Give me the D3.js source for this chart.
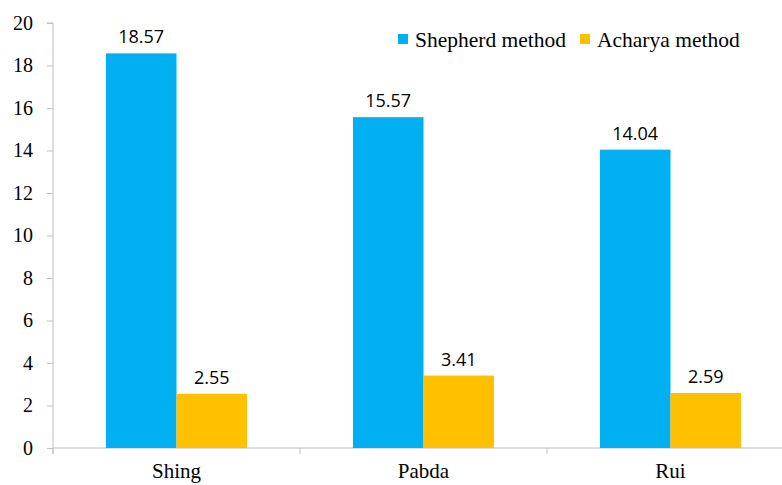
<!DOCTYPE html>
<html>
<head>
<meta charset="utf-8">
<script src="https://cdn.jsdelivr.net/npm/d3@7"></script>
<style>
  html, body { margin: 0; padding: 0; background: #fff; }
  svg { display: block; }
</style>
</head>
<body>
<svg id="chart" width="782" height="485"></svg>
<script>
// Fish species and the two estimates per species
const categories = ["Shing", "Pabda", "Rui"];
const seriesNames = ["Shepherd method", "Acharya method"];
const shepherdValues = [18.57, 15.57, 14.04];
const acharyaValues = [2.55, 3.41, 2.59];
const yTicks = [0, 2, 4, 6, 8, 10, 12, 14, 16, 18, 20];
const colors = ["#00B0F0", "#FFC000"];

const serifFont = '"Liberation Serif", "Times New Roman", serif';
const sansFont = '"Open Sans", "Liberation Sans", sans-serif';

const svg = d3.select("#chart");
const plotLeft = 53, plotRight = 794, plotTop = 23, plotBottom = 448;

const x = d3.scaleBand().domain(categories).range([plotLeft, plotRight]).paddingInner(0).paddingOuter(0);
const inner = d3.scaleBand().domain(seriesNames).range([0, x.bandwidth()]).paddingOuter(0.75).paddingInner(0);
const y = d3.scaleLinear().domain([0, 20]).range([plotBottom, plotTop]);

const rows = categories.map((c, i) => ({
  cat: c,
  vals: [
    { name: seriesNames[0], v: shepherdValues[i], color: colors[0] },
    { name: seriesNames[1], v: acharyaValues[i], color: colors[1] }
  ]
}));

const axisColor = "#BFBFBF";

// y axis
const yAxis = svg.append("g").attr("transform", `translate(${plotLeft},0)`)
  .call(d3.axisLeft(y).tickValues(yTicks).tickSize(6).tickPadding(14).tickFormat(d3.format("d")));
yAxis.select(".domain").attr("stroke", axisColor).attr("d", `M-6,${plotTop}H0V${plotBottom + 6}`);
yAxis.selectAll(".tick line").attr("stroke", axisColor);
yAxis.selectAll(".tick text")
  .attr("fill", "#000").style("font-family", serifFont).style("font-size", "20px");

// x axis with tick marks on category boundaries
const xg = svg.append("g").attr("transform", `translate(0,${plotBottom})`);
xg.append("line").attr("x1", plotLeft).attr("x2", plotRight).attr("stroke", axisColor);
const bounds = categories.map(c => x(c)).concat([x(categories[categories.length - 1]) + x.bandwidth()]);
xg.selectAll("line.b").data(bounds).join("line").attr("class", "b")
  .attr("x1", d => d).attr("x2", d => d).attr("y1", 0).attr("y2", 6).attr("stroke", axisColor);
xg.selectAll("text").data(categories).join("text")
  .attr("x", d => x(d) + x.bandwidth() / 2).attr("y", 30)
  .attr("text-anchor", "middle")
  .style("font-family", serifFont).style("font-size", "21px")
  .text(d => d);

// bars
const groups = svg.selectAll("g.grp").data(rows).join("g").attr("class", "grp")
  .attr("transform", d => `translate(${x(d.cat)},0)`);
groups.selectAll("rect").data(d => d.vals).join("rect")
  .attr("x", d => inner(d.name)).attr("width", inner.bandwidth())
  .attr("y", d => y(d.v)).attr("height", d => y(0) - y(d.v))
  .attr("fill", d => d.color);
groups.selectAll("text").data(d => d.vals).join("text")
  .attr("x", d => inner(d.name) + inner.bandwidth() / 2)
  .attr("y", d => y(d.v) - 10)
  .attr("text-anchor", "middle")
  .style("font-family", sansFont).style("font-size", "18px")
  .attr("fill", "#000")
  .text(d => d.v.toFixed(2));

// legend
const legendItems = [
  { name: seriesNames[0], color: colors[0], x: 398 },
  { name: seriesNames[1], color: colors[1], x: 580 }
];
const lg = svg.selectAll("g.leg").data(legendItems).join("g").attr("class", "leg")
  .attr("transform", d => `translate(${d.x},34)`);
lg.append("rect").attr("width", 10).attr("height", 10).attr("fill", d => d.color);
lg.append("text").attr("x", 17).attr("y", 12.5)
  .style("font-family", serifFont).style("font-size", "21.5px")
  .text(d => d.name);
</script>
</body>
</html>
